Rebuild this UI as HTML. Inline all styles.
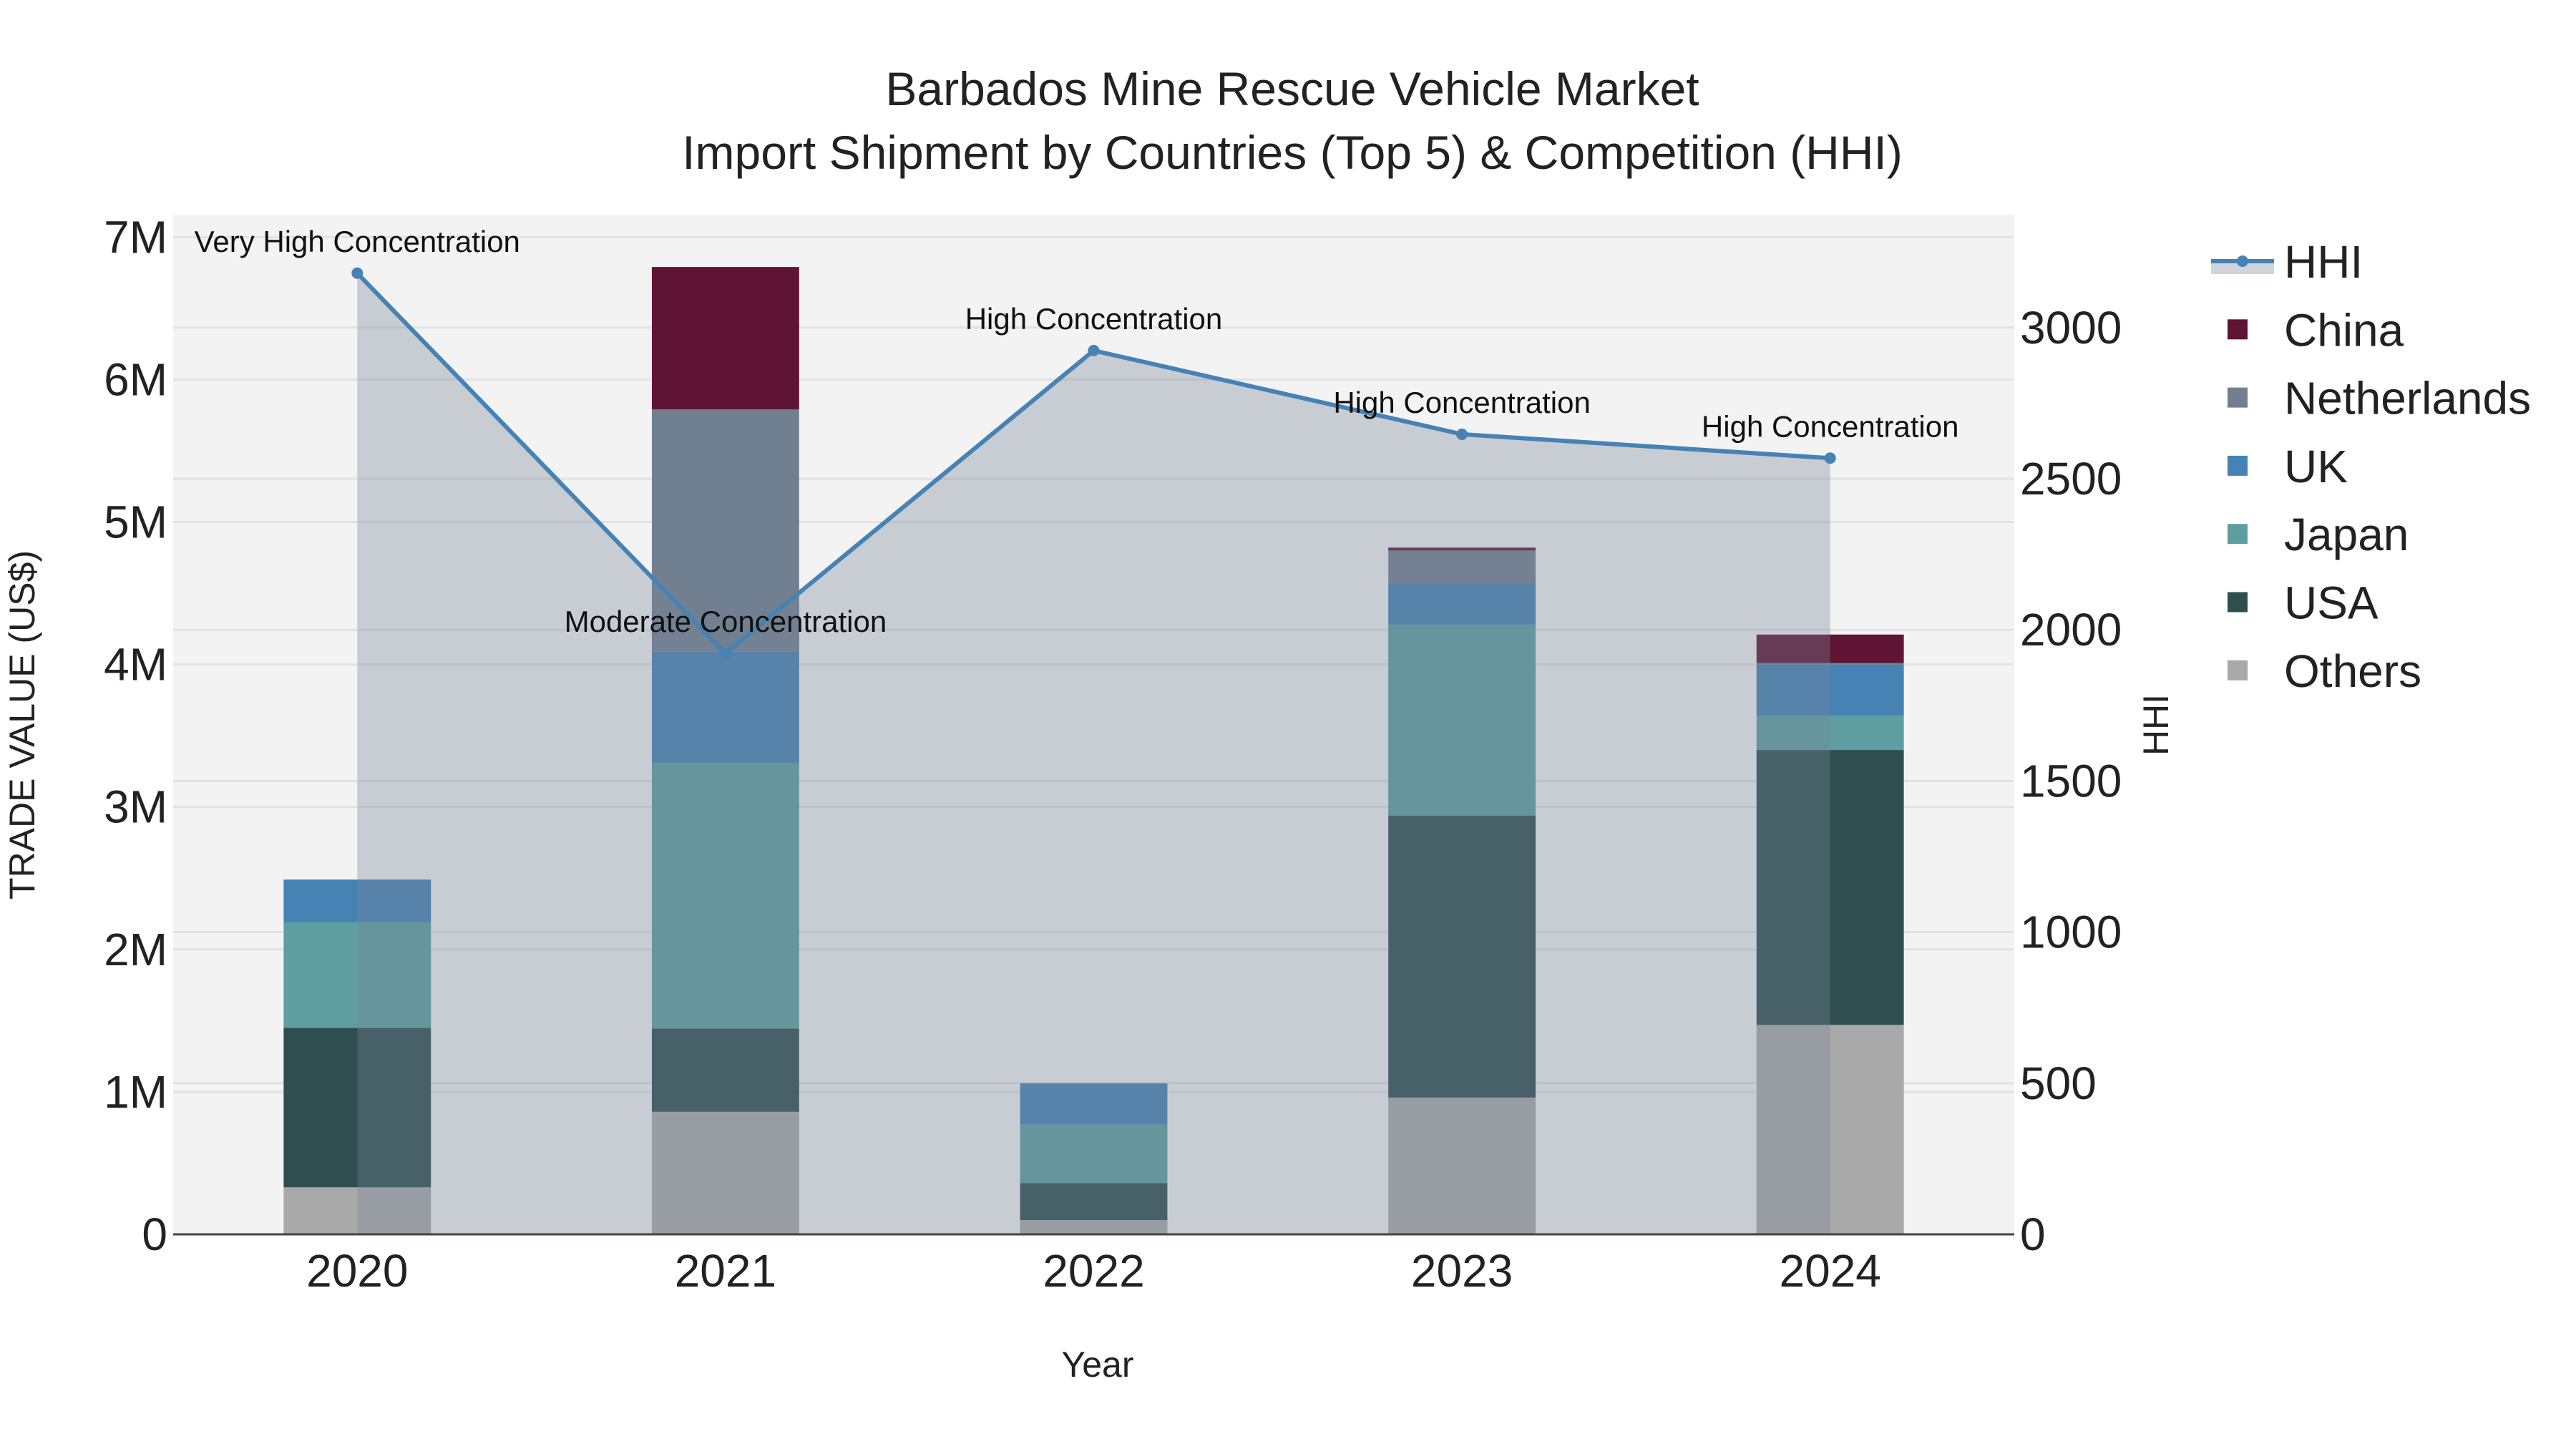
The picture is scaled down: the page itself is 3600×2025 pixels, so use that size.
<!DOCTYPE html>
<html><head><meta charset="utf-8"><style>
html,body{margin:0;padding:0;background:#fff}
svg{display:block;font-family:"Liberation Sans",Arial,sans-serif}
</style></head><body>
<svg id="chart" width="3600" height="2025" viewBox="0 0 3600 2025" xmlns="http://www.w3.org/2000/svg">
<rect width="3600" height="2025" fill="#fff"/>
<rect x="242" y="300" width="2573" height="1425" fill="#f3f3f3"/>
<g id="grid"></g><g id="bars"></g><g id="hhi"></g><g id="axes"></g>
<text x="1806" y="147" text-anchor="middle" font-size="66" fill="#222">Barbados Mine Rescue Vehicle Market</text>
<text x="1806" y="236" text-anchor="middle" font-size="66" fill="#222">Import Shipment by Countries (Top 5) &amp; Competition (HHI)</text>
<text x="1534" y="1924" text-anchor="middle" font-size="50" fill="#222">Year</text>
<text transform="translate(48,1013) rotate(-90)" text-anchor="middle" font-size="50" fill="#222">TRADE VALUE (US$)</text>
<text transform="translate(3030,1013) rotate(-90)" text-anchor="middle" font-size="50" fill="#222">HHI</text>
<g id="legend"></g>
</svg>
<script>
const years = ["2020","2021","2022","2023","2024"];
const others = [0.33,0.86,0.10,0.96,1.47];
const usa = [1.12,0.585,0.26,1.98,1.93];
const japan = [0.74,1.865,0.41,1.34,0.24];
const uk = [0.30,0.78,0.29,0.29,0.36];
const netherlands = [0,1.70,0,0.23,0.01];
const china = [0,1.00,0,0.02,0.20];
const hhiValues = [3180,1922,2924,2647,2568];
const hhiLabels = ["Very High Concentration","Moderate Concentration","High Concentration","High Concentration","High Concentration"];
const yTicks = [0,1,2,3,4,5,6,7];
const yTickLabels = ["0","1M","2M","3M","4M","5M","6M","7M"];
const y2Ticks = [0,500,1000,1500,2000,2500,3000];

const NS="http://www.w3.org/2000/svg";
const PL=242,PR=2815,PT=300,PB=1725;
const step=(PR-PL)/years.length;
const xc=i=>PL+step*(i+0.5);
const y=v=>PB-v*199.1;
const y2=v=>PB-v*0.4224;
function mk(tag,attrs,parent){const e=document.createElementNS(NS,tag);for(const k in attrs)e.setAttribute(k,attrs[k]);parent.appendChild(e);return e;}
const grid=document.getElementById('grid'),bars=document.getElementById('bars'),hhi=document.getElementById('hhi'),axes=document.getElementById('axes'),legend=document.getElementById('legend');

yTicks.forEach((t,i)=>{
  if(t>0){const l=mk('line',{x1:PL,x2:PR,y1:y(t),y2:y(t),stroke:'#e2e2e2','stroke-width':3},grid);
  
  }
  const tx=mk('text',{x:PL-8,y:y(t)+22,'text-anchor':'end','font-size':64,fill:'#222'},axes);
  tx.textContent=yTickLabels[i];
  
  
});
y2Ticks.forEach(t=>{
  if(t>0){const l=mk('line',{x1:PL,x2:PR,y1:y2(t),y2:y2(t),stroke:'#e2e2e2','stroke-width':3},grid);
  
  }
  const tx=mk('text',{x:PR+8,y:y2(t)+22,'text-anchor':'start','font-size':64,fill:'#222'},axes);
  tx.textContent=String(t);
  
  
});
years.forEach((yr,i)=>{
  const tx=mk('text',{x:xc(i),y:1798,'text-anchor':'middle','font-size':64,fill:'#222'},axes);
  tx.textContent=yr;
  
  
});
const zl=mk('line',{x1:PL,x2:PR,y1:PB,y2:PB,stroke:'#444','stroke-width':3},axes);



const series=[["Others",others,"#a9a9a9"],["USA",usa,"#2f4f4f"],["Japan",japan,"#5f9ea0"],["UK",uk,"#4682b4"],["Netherlands",netherlands,"#708090"],["China",china,"#5f1434"]];
const bw=step*0.4;
years.forEach((yr,i)=>{
  let base=0;
  series.forEach(s=>{
    const v=s[1][i];
    if(v>0){
      const r=mk('rect',{x:xc(i)-bw/2,y:y(base+v),width:bw,height:y(base)-y(base+v),fill:s[2]},bars);
      
      
    }
    base+=v;
  });
});

let d='M'+xc(0)+','+PB;
hhiValues.forEach((v,i)=>{d+=' L'+xc(i)+','+y2(v);});
d+=' L'+xc(hhiValues.length-1)+','+PB+' Z';
const area=mk('path',{d:d,fill:'rgba(120,131,151,0.35)'},hhi);


const pts=hhiValues.map((v,i)=>xc(i)+','+y2(v)).join(' ');
const ln=mk('polyline',{points:pts,fill:'none',stroke:'#4682b4','stroke-width':6},hhi);


hhiValues.forEach((v,i)=>{
  const c=mk('circle',{cx:xc(i),cy:y2(v),r:8,fill:'#4682b4'},hhi);
  
  
  const t=mk('text',{x:xc(i),y:y2(v)-30,'text-anchor':'middle','font-size':42,fill:'#111'},hhi);
  t.textContent=hhiLabels[i];
  
  
});

// legend
const L0=365,LS=95.3;
const lb=mk('rect',{x:3090,y:L0+2,width:88,height:16,fill:'rgba(120,131,151,0.35)'},legend);


const ll=mk('line',{x1:3090,x2:3178,y1:L0,y2:L0,stroke:'#4682b4','stroke-width':6},legend);


const lc=mk('circle',{cx:3134,cy:L0,r:8,fill:'#4682b4'},legend);


const lt=mk('text',{x:3192,y:L0+23,'font-size':64,fill:'#222'},legend);
lt.textContent='HHI';


series.slice().reverse().forEach((s,k)=>{
  const cy=L0+LS*(k+1);
  const r=mk('rect',{x:3113,y:cy-14,width:28,height:28,fill:s[2]},legend);
  
  
  const t=mk('text',{x:3192,y:cy+23,'font-size':64,fill:'#222'},legend);
  t.textContent=s[0];
  
  
});
</script>
</body></html>
